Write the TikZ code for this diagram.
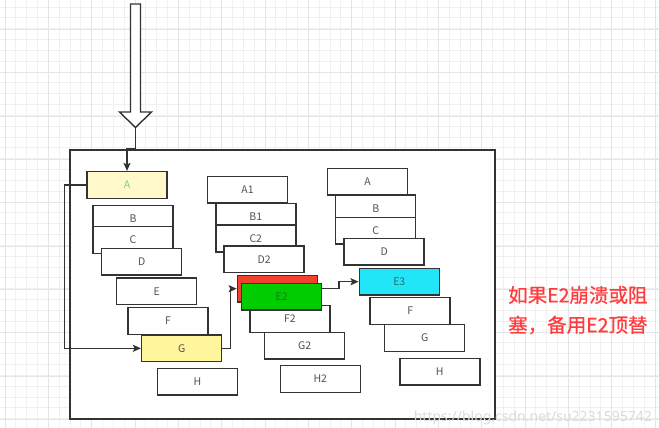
\documentclass[tikz,border=0pt]{standalone}
\usepackage{fontspec}
\setmainfont{Noto Sans CJK SC}
\newfontfamily\wmfont{Noto Sans}
\newfontfamily\notefont[FakeBold=0.6]{Noto Sans CJK SC}
\usetikzlibrary{arrows.meta}
\definecolor{edge}{HTML}{333333}
\definecolor{paleyel}{HTML}{FFF9CC}
\definecolor{yel}{HTML}{FFF59D}
\definecolor{agreen}{HTML}{6FD96F}
\definecolor{redbox}{HTML}{F2412F}
\definecolor{greenbox}{HTML}{00CC00}
\definecolor{cyanbox}{HTML}{20E6F8}
\definecolor{note}{HTML}{FF3B3B}
\tikzset{
  box/.style={draw=edge, line width=1.5pt, fill=white, minimum width=80pt, minimum height=26.6pt,
    inner sep=0pt, font=\fontsize{10.5}{12}\selectfont, text=edge!85},
  arr/.style={draw=edge, line width=1.4pt, -{Stealth[length=8pt,width=7pt,inset=1.5pt]}},
  gridc/.style={draw=black!6, line width=0.8pt},
  gridm/.style={draw=black!10, line width=0.8pt},
  notetext/.style={text=note, font=\notefont\fontsize{19.5}{22}\selectfont, anchor=west, inner sep=0pt}
}
\begin{document}
\begin{tikzpicture}[x=1pt,y=-1pt]
\useasboundingbox (0,0) rectangle (659,428);
\fill[white] (0,0) rectangle (659,428);
% background grid
\foreach \i in {0,...,60} \draw[gridc] ({5+10.833*\i},0) -- ++(0,428);
\foreach \j in {0,...,39} \draw[gridc] (0,{7+10.833*\j}) -- ++(659,0);
\foreach \i in {0,...,15} \draw[gridm] ({5+43.33*\i},0) -- ++(0,428);
\foreach \j in {0,...,9} \draw[gridm] (0,{29.3+43.33*\j}) -- ++(659,0);
% container
\node[draw=edge, line width=1.5pt, fill=white, minimum width=425pt, minimum height=269pt, inner sep=0pt] (frame) at (282.5,284.5) {};
% hollow input arrow
\draw[draw=edge, line width=1.4pt, fill=white] (130.5,4) -- (140.5,4) -- (140.5,112) -- (151.5,112) -- (135.5,127.5) -- (119.5,112) -- (130.5,112) -- cycle;
\coordinate (tip) at (135.5,127.5);
% left column
\node[box, fill=paleyel, text=agreen] (A) at (127,185) {A};
\node[box] (B) at (133,219) {B};
\node[box] (C) at (133,240) {C};
\node[box] (D) at (141.7,261.7) {D};
\node[box] (E) at (156.7,291.3) {E};
\node[box] (F) at (168,321) {F};
\node[box, fill=yel] (G) at (181.7,348.3) {G};
\node[box] (H) at (197.5,381.7) {H};
% middle column
\node[box] (A1) at (247.5,189.7) {A1};
\node[box] (B1) at (255.8,217) {B1};
\node[box] (C2) at (255.8,238.5) {C2};
\node[box] (D2) at (264.2,259.3) {D2};
\node[box, fill=redbox] (R) at (277.5,288.7) {};
\node[box] (F2) at (290,319) {F2};
\node[box, fill=greenbox, text=edge!70!green] (E2) at (281.7,296.7) {E2};
\node[box] (G2) at (304.7,345.8) {G2};
\node[box] (H2) at (320.3,379) {H2};
% right column
\node[box] (RA) at (367.5,181.7) {A};
\node[box] (RB) at (375.7,208.5) {B};
\node[box] (RC) at (375.7,230.7) {C};
\node[box] (RD) at (384.2,251.7) {D};
\node[box, fill=cyanbox, text=edge!70!cyan] (E3) at (399.3,281.7) {E3};
\node[box] (RF) at (410.2,311) {F};
\node[box] (RG) at (424.7,338) {G};
\node[box] (RH) at (439.8,371.7) {H};
% connectors
\draw[arr] (tip) -- (135.5,149) -| (A.north);
\draw[arr] (A.west) -- ++(-22,0) |- (G.west);
\draw[arr] (G.east) -- ++(8.3,0) |- (R.west);
\draw[arr] ([yshift=8.4pt]E2.east) -- ++(16.6,0) |- (E3.west);
% note
\node[notetext] (n1) at (508,295) {如果E2崩溃或阻};
\node[notetext] (n2) at (508,325) {塞，备用E2顶替};
% watermark
\node[text=black!14, font=\wmfont\fontsize{14}{16}\selectfont, anchor=base east, inner sep=0pt] (wm) at (652,421) {https://blog.csdn.net/su2231595742};
\end{tikzpicture}
\end{document}
